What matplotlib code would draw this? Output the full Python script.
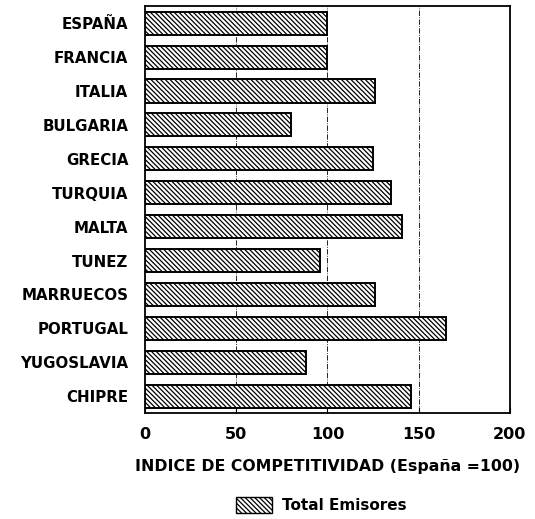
import matplotlib.pyplot as plt
from matplotlib.patches import Patch

plt.rcParams['font.family'] = ['DejaVu Sans']
plt.rcParams['font.weight'] = 'bold'
plt.rcParams['hatch.linewidth'] = 0.9

paises = ['ESPAÑA', 'FRANCIA', 'ITALIA', 'BULGARIA', 'GRECIA', 'TURQUIA',
          'MALTA', 'TUNEZ', 'MARRUECOS', 'PORTUGAL', 'YUGOSLAVIA', 'CHIPRE']
indice = [100, 100, 126, 80, 125, 135, 141, 96, 126, 165, 88, 146]
xticks = [0, 50, 100, 150, 200]

fig = plt.figure(figsize=(5.35, 5.19), dpi=100)
ax = fig.add_axes([0.271, 0.204, 0.682, 0.784])

ypos = list(range(len(paises)))
ax.barh(ypos, indice, height=0.68, color='white', edgecolor='black',
        hatch='\\' * 7, linewidth=1.4, zorder=3)

ax.set_ylim(len(paises) - 0.5, -0.5)
ax.set_xlim(0, 200)
ax.set_yticks(ypos)
ax.set_yticklabels(paises, fontsize=10.8, fontweight='bold')
ax.set_xticks(xticks)
ax.set_xticklabels([str(t) for t in xticks], fontsize=11.5, fontweight='bold')
ax.tick_params(axis='y', length=0, pad=12)
ax.tick_params(axis='x', direction='in', length=4, pad=10)
for t in xticks[1:-1]:
    ax.axvline(t, color='black', linestyle='-.', linewidth=0.6, zorder=1)
for s in ax.spines.values():
    s.set_linewidth(1.3)

ax.set_xlabel('INDICE DE COMPETITIVIDAD (España =100)', fontsize=11.3,
              fontweight='bold', labelpad=12)

leg = fig.legend(handles=[Patch(facecolor='white', edgecolor='black',
                                hatch='\\' * 7, label='Total Emisores')],
                 loc='center', bbox_to_anchor=(0.60, 0.027), frameon=False,
                 fontsize=11, handlelength=2.4, handleheight=1.2,
                 handletextpad=0.6)

fig.savefig('out.png', dpi=100)
